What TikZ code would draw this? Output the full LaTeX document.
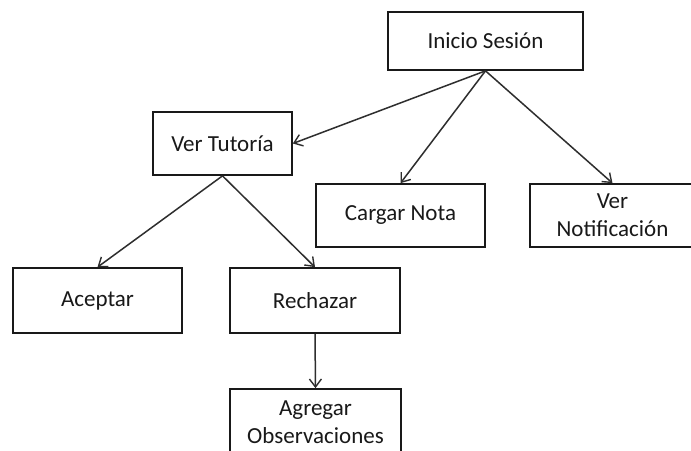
\documentclass[tikz,border=0pt]{standalone}
\usepackage{fontspec}
\setmainfont{Carlito}
\usetikzlibrary{arrows.meta}
\begin{document}
\begin{tikzpicture}[x=1pt,y=-1pt,
  box/.style={draw=black!90, line width=1.7pt, fill=white, rectangle, inner sep=0pt,
    align=center, font=\fontsize{23}{28}\selectfont, text=black!90},
  conn/.style={draw=black!82, line width=1.5pt, -{Straight Barb[length=8pt,width=12pt,line width=1.4pt]}}]
\useasboundingbox (0,0) rectangle (691,450);
\clip (0,0) rectangle (691,450);
\fill[white] (0,0) rectangle (691,450);
\node[box, minimum width=195pt, minimum height=58pt] (inicio) at (485.5,41) {Inicio Sesión};
\node[box, minimum width=139pt, minimum height=63pt] (tutoria) at (222.5,143.5) {Ver Tutoría};
\node[box, minimum width=169pt, minimum height=63pt] (cargar) at (400.5,215.5) {Cargar Nota};
\node[box, minimum width=165pt, minimum height=63pt] (notif) at (612.5,215.5) {Ver\\Notificación};
\node[box, minimum width=169pt, minimum height=65pt] (aceptar) at (97.5,300.5) {Aceptar};
\node[box, minimum width=170pt, minimum height=65pt] (rechazar) at (315,300.5) {Rechazar};
\node[box, minimum width=171pt, minimum height=66pt] (agregar) at (315.5,422) {Agregar\\Observaciones};
\draw[conn] (inicio.south) -- (tutoria.east);
\draw[conn] (inicio.south) -- (cargar.north);
\draw[conn] (inicio.south) -- (notif.north);
\draw[conn] (tutoria.south) -- (aceptar.north);
\draw[conn] (tutoria.south) -- (rechazar.north);
\draw[conn] (rechazar.south) -- (agregar.north);
\end{tikzpicture}
\end{document}
